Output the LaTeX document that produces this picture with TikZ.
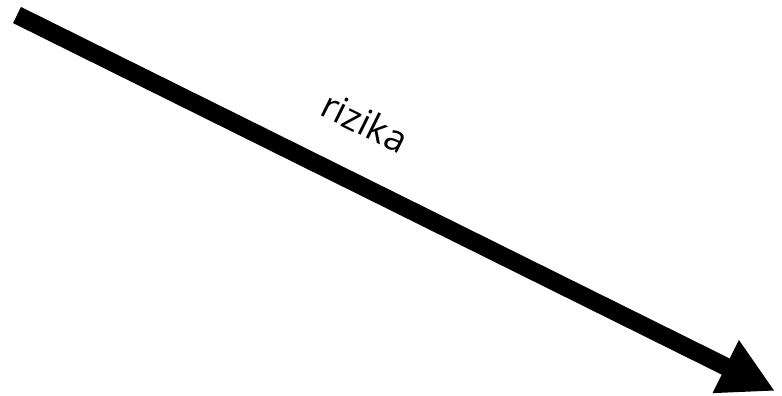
\documentclass[tikz,border=0pt]{standalone}
\usepackage{fontspec}
\setmainfont{Open Sans}
\usetikzlibrary{arrows.meta}

\begin{document}
\begin{tikzpicture}[x=1pt,y=-1pt]
\useasboundingbox (0,0) rectangle (782,396);
\coordinate (from) at (17,15);
\coordinate (to) at (775,391);
\draw[line width=18pt,-{Triangle[length=55pt,width=55pt]}] (from) -- (to);
\node (risk) [rotate=-26.4,font=\fontsize{37}{42}\selectfont] at (365,122) {rizika};
\end{tikzpicture}
\end{document}
